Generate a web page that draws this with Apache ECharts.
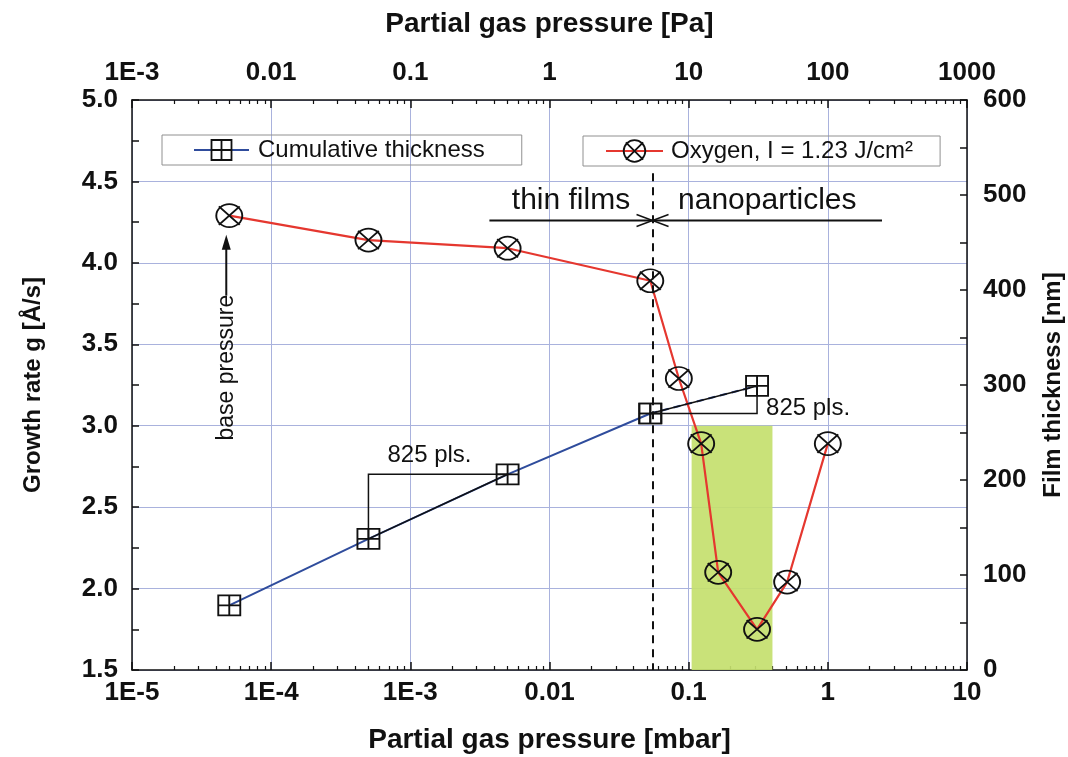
<!DOCTYPE html>
<html>
<head>
<meta charset="utf-8">
<script src="https://cdn.jsdelivr.net/npm/echarts@6/dist/echarts.min.js"></script>
<style>
  html, body { margin: 0; padding: 0; background: #fff; }
  #chart { width: 1068px; height: 757px; }
</style>
</head>
<body>
<div id="chart"></div>
<script>
// oxygen partial pressure [mbar] vs growth rate [Å/s]
const oxygenPressure = [5e-5, 5e-4, 5e-3, 0.053, 0.085, 0.123, 0.163, 0.31, 0.51, 1.0];
const oxygenRate = [4.29, 4.14, 4.09, 3.89, 3.29, 2.89, 2.10, 1.75, 2.04, 2.89];

// cumulative film thickness [nm]
const thicknessPressure = [5e-5, 5e-4, 5e-3, 0.053, 0.31];
const thicknessNm = [68, 138, 206, 270, 299];

// tick labels of the two pressure axes
const mbarTickLabels = ['1E-5', '1E-4', '1E-3', '0.01', '0.1', '1', '10'];
const paTickLabels = ['1E-3', '0.01', '0.1', '1', '10', '100', '1000'];

// annotations
const regimeBoundary = 0.055;          // thin films | nanoparticles
const regimeArrowLevel = 4.26;         // growth rate level of the arrows
const regimeSpan = [0.0037, 2.45];
const nanoWindow = [[0.105, 1.5], [0.40, 3.0]];

const FONT = "'Liberation Sans', Arial, sans-serif";
const INK = '#111';
const RED = '#e5372f';
const BLUE = '#2f4c9c';
const GRID = '#a9b2dd';

const O2_SYMBOL = 'path://M0 10 A10 10 0 1 1 20 10 A10 10 0 1 1 0 10 Z M2 2 L18 18 M18 2 L2 18';
const BOX_SYMBOL = 'path://M0 0 L20 0 L20 20 L0 20 Z M10 0 L10 20 M0 10 L20 10';

// minor ticks 2..9 of each decade, in log units
const minorLog = [];
for (let d = -5; d < 1; d++) {
  for (let m = 2; m <= 9; m++) minorLog.push(d + Math.log10(m));
}

const zip = (xs, ys) => xs.map((x, i) => [x, ys[i]]);

const lineAxis = { show: true, onZero: false, lineStyle: { color: INK, width: 1.5 } };
const tickLabel = { fontSize: 26, fontWeight: 'bold', fontFamily: FONT, color: INK };
const nameStyle = (size) => ({ fontSize: size, fontWeight: 'bold', fontFamily: FONT, color: INK });
const markerStyle = { color: 'rgba(0,0,0,0)', borderColor: INK, borderWidth: 1.8 };

const chart = echarts.init(document.getElementById('chart'));

chart.setOption({
  animation: false,
  textStyle: { fontFamily: FONT },
  grid: { left: 132, right: 101, top: 100, bottom: 87, outerBoundsMode: 'none' },
  legend: [
    {
      data: ['Cumulative thickness'],
      left: 162, top: 135,
      itemWidth: 55, itemHeight: 25,
      padding: [3, 37, 3, 31],
      borderColor: '#909090', borderWidth: 1,
      selectedMode: false,
      itemStyle: markerStyle,
      textStyle: { fontSize: 24, fontFamily: FONT, color: INK, padding: [0, 0, 0, 4] }
    },
    {
      data: ['Oxygen, I = 1.23 J/cm²'],
      left: 583, top: 136,
      itemWidth: 57, itemHeight: 27,
      padding: [3, 27, 3, 22],
      borderColor: '#909090', borderWidth: 1,
      selectedMode: false,
      itemStyle: markerStyle,
      textStyle: { fontSize: 24, fontFamily: FONT, color: INK, padding: [0, 0, 0, 3] }
    }
  ],
  xAxis: [
    {
      type: 'log', logBase: 10, min: 1e-5, max: 10, position: 'bottom',
      axisLine: lineAxis,
      axisTick: { inside: true, length: 8, lineStyle: { color: INK, width: 1.5 } },
      axisLabel: Object.assign({ margin: 10, formatter: v => mbarTickLabels[Math.round(Math.log10(v)) + 5] }, tickLabel),
      splitLine: { show: true, lineStyle: { color: GRID, width: 1 } },
      name: 'Partial gas pressure [mbar]', nameLocation: 'middle', nameGap: 56,
      nameTextStyle: nameStyle(28)
    },
    {
      type: 'value', min: -5, max: 1, position: 'bottom',
      axisLine: { show: false, onZero: false },
      axisLabel: { show: false },
      splitLine: { show: false },
      axisTick: { show: true, inside: true, length: 4, customValues: minorLog, lineStyle: { color: INK, width: 1.2 } }
    },
    {
      type: 'log', logBase: 10, min: 1e-3, max: 1000, position: 'top',
      axisLine: lineAxis,
      axisTick: { inside: true, length: 8, lineStyle: { color: INK, width: 1.5 } },
      axisLabel: Object.assign({ margin: 14, formatter: v => paTickLabels[Math.round(Math.log10(v)) + 3] }, tickLabel),
      splitLine: { show: false },
      name: 'Partial gas pressure [Pa]', nameLocation: 'middle', nameGap: 62,
      nameTextStyle: nameStyle(28)
    },
    {
      type: 'value', min: -5, max: 1, position: 'top',
      axisLine: { show: false, onZero: false },
      axisLabel: { show: false },
      splitLine: { show: false },
      axisTick: { show: true, inside: true, length: 4, customValues: minorLog, lineStyle: { color: INK, width: 1.2 } }
    }
  ],
  yAxis: [
    {
      type: 'value', min: 1.5, max: 5, interval: 0.5, position: 'left',
      axisLine: lineAxis,
      axisTick: { inside: true, length: 7, lineStyle: { color: INK, width: 1.5 } },
      minorTick: { show: true, splitNumber: 2, length: 7, lineStyle: { color: INK, width: 1.5 } },
      axisLabel: Object.assign({ margin: 14, formatter: v => v.toFixed(1) }, tickLabel),
      splitLine: { show: true, lineStyle: { color: GRID, width: 1 } },
      name: 'Growth rate g [Å/s]', nameLocation: 'middle', nameRotate: 90, nameGap: 87,
      nameTextStyle: nameStyle(24)
    },
    {
      type: 'value', min: 0, max: 600, interval: 100, position: 'right',
      axisLine: lineAxis,
      axisTick: { inside: true, length: 7, lineStyle: { color: INK, width: 1.5 } },
      minorTick: { show: true, splitNumber: 2, length: 7, lineStyle: { color: INK, width: 1.5 } },
      axisLabel: Object.assign({ margin: 16 }, tickLabel),
      splitLine: { show: false },
      name: 'Film thickness [nm]', nameLocation: 'middle', nameRotate: 90, nameGap: 74,
      nameTextStyle: nameStyle(24)
    }
  ],
  series: [
    {
      name: 'Oxygen, I = 1.23 J/cm²',
      type: 'line', xAxisIndex: 0, yAxisIndex: 0,
      data: zip(oxygenPressure, oxygenRate),
      symbol: O2_SYMBOL, symbolSize: [26, 23],
      itemStyle: markerStyle,
      lineStyle: { color: RED, width: 2.2 },
      z: 4,
      markArea: {
        silent: true,
        itemStyle: { color: '#c4df6e', opacity: 0.92 },
        data: [[{ coord: nanoWindow[0] }, { coord: nanoWindow[1] }]]
      },
      markLine: {
        silent: true, symbol: 'none',
        label: { show: false },
        lineStyle: { color: INK, type: [8, 6], width: 2 },
        data: [[{ coord: [regimeBoundary, 4.55] }, { coord: [regimeBoundary, 1.5] }]]
      }
    },
    {
      name: 'Cumulative thickness',
      type: 'line', xAxisIndex: 0, yAxisIndex: 1,
      data: zip(thicknessPressure.slice(0, 4), thicknessNm.slice(0, 4)),
      symbol: BOX_SYMBOL, symbolSize: [22, 20],
      itemStyle: markerStyle,
      lineStyle: { color: BLUE, width: 2 },
      z: 3
    },
    {
      name: 'thickness tail',
      type: 'line', xAxisIndex: 0, yAxisIndex: 1,
      data: zip(thicknessPressure.slice(3), thicknessNm.slice(3)),
      symbol: BOX_SYMBOL, symbolSize: [22, 20],
      itemStyle: markerStyle,
      lineStyle: { color: BLUE, width: 2, type: [7, 5] },
      z: 3
    }
  ]
});

// annotations anchored on the data
const toPx = (x, y, yi) => chart.convertToPixel({ xAxisIndex: 0, yAxisIndex: yi }, [x, y]);
const stroke = (w) => ({ stroke: INK, lineWidth: w, fill: null });
const label = (text, x, y, size, align, rot) => ({
  type: 'text', x: x, y: y, rotation: rot || 0, z: 20,
  style: { text: text, fontSize: size, fontFamily: FONT, fill: INK, align: align, verticalAlign: 'middle' }
});

const [bx, by] = toPx(regimeBoundary, regimeArrowLevel, 0);
const lx = toPx(regimeSpan[0], regimeArrowLevel, 0)[0];
const rx = toPx(regimeSpan[1], regimeArrowLevel, 0)[0];

const base = toPx(oxygenPressure[0], oxygenRate[0], 0);
const ax = base[0] - 3;

const t = thicknessPressure.map((p, i) => toPx(p, thicknessNm[i], 1));

chart.setOption({
  graphic: [
    { type: 'line', z: 20, shape: { x1: lx, y1: by, x2: rx, y2: by }, style: stroke(2) },
    { type: 'polyline', z: 20, shape: { points: [[bx - 16, by - 6], [bx, by], [bx - 16, by + 6]] }, style: stroke(1.5) },
    { type: 'polyline', z: 20, shape: { points: [[bx + 16, by - 6], [bx, by], [bx + 16, by + 6]] }, style: stroke(1.5) },
    label('thin films', (lx + bx) / 2, by - 20, 30, 'center'),
    label('nanoparticles', (bx + rx) / 2, by - 20, 30, 'center'),

    { type: 'line', z: 20, shape: { x1: ax, y1: base[1] + 80, x2: ax, y2: base[1] + 30 }, style: stroke(2) },
    { type: 'polygon', z: 20, shape: { points: [[ax, base[1] + 19], [ax - 4.5, base[1] + 34], [ax + 4.5, base[1] + 34]] }, style: { fill: INK } },
    label('base pressure', ax, base[1] + 152, 23, 'center', Math.PI / 2),

    { type: 'polyline', z: 20, shape: { points: [[t[1][0], t[1][1]], [t[1][0], t[2][1]], [t[2][0], t[2][1]]] }, style: stroke(1.5) },
    { type: 'line', z: 20, shape: { x1: t[1][0], y1: t[1][1], x2: t[2][0], y2: t[2][1] }, style: stroke(1.5) },
    label('825 pls.', t[1][0] + 19, t[2][1] - 19, 24, 'left'),

    { type: 'polyline', z: 20, shape: { points: [[t[3][0], t[3][1]], [t[4][0], t[3][1]], [t[4][0], t[4][1]]] }, style: stroke(1.5) },
    { type: 'line', z: 20, shape: { x1: t[3][0], y1: t[3][1], x2: t[4][0], y2: t[4][1] }, style: stroke(1.5) },
    label('825 pls.', t[4][0] + 9, t[3][1] - 5, 24, 'left')
  ]
});
</script>
</body>
</html>
